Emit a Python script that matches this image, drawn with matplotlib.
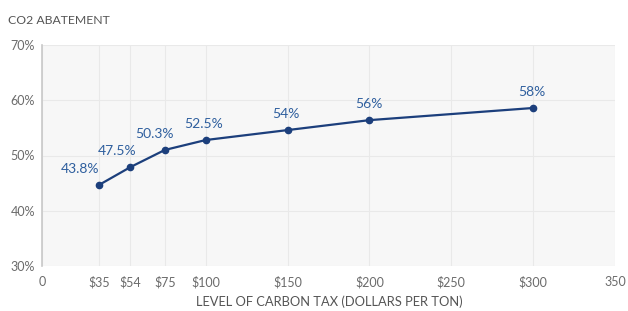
import matplotlib
matplotlib.use("Agg")
import matplotlib.pyplot as plt

tax = [35, 54, 75, 100, 150, 200, 300]
abatement = [44.7, 47.9, 51.0, 52.8, 54.6, 56.4, 58.6]
point_labels = ["43.8%", "47.5%", "50.3%", "52.5%", "54%", "56%", "58%"]
label_dx = [-19, -13, -10, -2, -2, -1, -1]
xticks = [0, 35, 54, 75, 100, 150, 200, 250, 300, 350]
xtick_labels = ["0", "$35", "$54", "$75", "$100", "$150", "$200", "$250", "$300", "350"]
yticks = [30, 40, 50, 60, 70]
ytick_labels = ["30%", "40%", "50%", "60%", "70%"]

plt.rcParams['font.family'] = ['Lato', 'DejaVu Sans']

fig = plt.figure(figsize=(6.28, 3.11), dpi=100)
ax = fig.add_axes([42/628, 1-266/311, (615-42)/628, (266-45)/311])
ax.set_facecolor('#f7f7f7')
ax.set_xlim(0, 350)
ax.set_ylim(30, 70)
ax.set_xticks(xticks)
ax.set_xticklabels(xtick_labels)
ax.set_yticks(yticks)
ax.set_yticklabels(ytick_labels)
ax.grid(True, color='#e9e9e9', linewidth=0.8)
ax.set_axisbelow(True)
for s in ['top', 'right', 'bottom']:
    ax.spines[s].set_visible(False)
ax.spines['left'].set_color('#c8c8c8')
ax.spines['left'].set_linewidth(1.2)
ax.tick_params(axis='both', length=0, labelsize=9, colors='#6b6b6b')
ax.tick_params(axis='x', pad=7)
ax.tick_params(axis='y', pad=5)

ax.plot(tax, abatement, color='#1c3f7c', linewidth=1.6, marker='o', markersize=4.5)
for x, y, lab, dx in zip(tax, abatement, point_labels, label_dx):
    ax.annotate(lab, (x, y), xytext=(dx*0.72, 7), textcoords='offset points',
                ha='center', va='bottom', fontsize=10, color='#2f5f9e')

fig.text(8/628, 1-20/311, "CO2 ABATEMENT", fontsize=8.8, color='#555555', va='center', ha='left')
fig.text(329/628, 1-302/311, "LEVEL OF CARBON TAX (DOLLARS PER TON)", fontsize=9.3,
         color='#555555', va='center', ha='center')

fig.savefig('out.png', dpi=100, facecolor='white')
